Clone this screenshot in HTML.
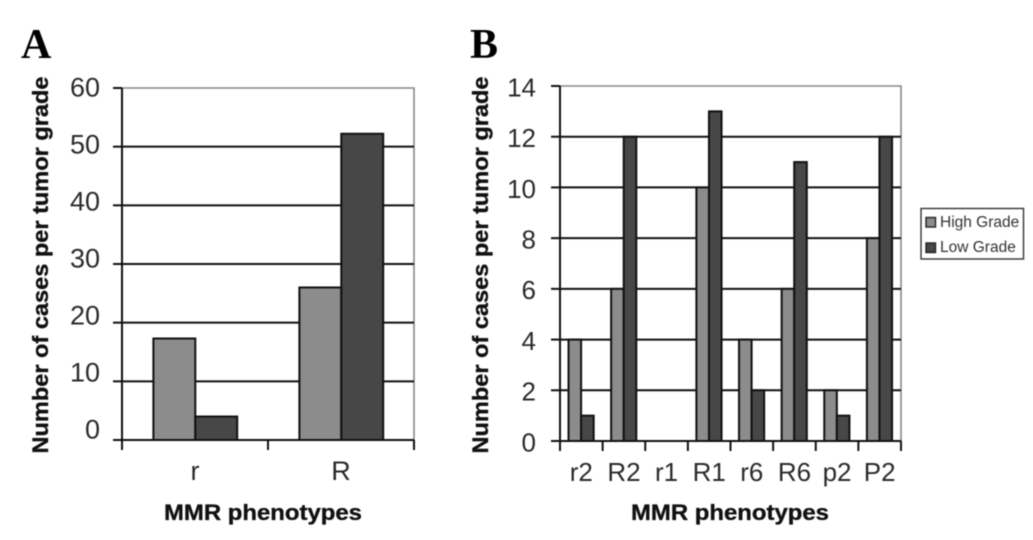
<!DOCTYPE html>
<html lang="en">
<head>
<meta charset="utf-8">
<title>MMR phenotypes by tumor grade</title>
<style>
html,body{margin:0;padding:0;background:#fff;}
svg{display:block;filter:blur(0.45px);}
text{font-family:"Liberation Sans",sans-serif;}
.tick{fill:#2b2b2b;}
.title{font-size:22.5px;font-weight:bold;fill:#111;stroke:#111;stroke-width:0.35px;}
.panel{font-family:"Liberation Serif",serif;font-size:42px;font-weight:bold;fill:#000;}
.leg{font-size:15.5px;fill:#333;}
</style>
</head>
<body>
<svg id="fig" width="1033" height="540" viewBox="0 0 1033 540" xmlns="http://www.w3.org/2000/svg">
  <text class="panel" x="21" y="58">A</text>
  <text class="panel" x="470" y="58">B</text>
  <g id="chartA"></g>
  <g id="chartB"></g>
  <g>
    <rect x="921" y="208.5" width="102.5" height="50.5" fill="#fff" stroke="#333" stroke-width="1.4"/>
    <rect x="926" y="217.5" width="9.5" height="9.5" fill="#8c8c8c" stroke="#222" stroke-width="1.4"/>
    <text class="leg" x="940" y="227">High Grade</text>
    <rect x="926" y="243" width="9.5" height="9.5" fill="#474747" stroke="#222" stroke-width="1.4"/>
    <text class="leg" x="940" y="252">Low Grade</text>
  </g>
</svg>
<script>
var categoriesA = ['r', 'R'];
var highGradeA = [17.3, 26];
var lowGradeA = [4, 52.2];
var tickLabelsA = [0, 10, 20, 30, 40, 50, 60];

var categoriesB = ['r2', 'R2', 'r1', 'R1', 'r6', 'R6', 'p2', 'P2'];
var highGradeB = [4, 6, 0, 10, 4, 6, 2, 8];
var lowGradeB = [1, 12, 0, 13, 2, 11, 1, 12];
var tickLabelsB = [0, 2, 4, 6, 8, 10, 12, 14];

var NS = 'http://www.w3.org/2000/svg';
function make(parent, tag, attrs, txt) {
  var el = document.createElementNS(NS, tag);
  for (var k in attrs) el.setAttribute(k, attrs[k]);
  if (txt !== undefined) el.textContent = txt;
  parent.appendChild(el);
  return el;
}
function drawChart(root, cfg) {
  var maxV = cfg.ticks[cfg.ticks.length - 1];
  function yScale(v) { return cfg.bottom - v * (cfg.bottom - cfg.top) / maxV; }
  function yLabel(v) { return cfg.labelBottom - v * (cfg.labelBottom - cfg.labelTop) / maxV; }
  var band = (cfg.right - cfg.left) / cfg.categories.length;
  function xBand(i) { return cfg.left + i * band; }

  var frame = make(root, 'path', {d: 'M' + cfg.left + ' ' + cfg.top + 'H' + cfg.right + 'V' + cfg.bottom, fill: 'none', stroke: '#888', 'stroke-width': 1.6});
  
  

  cfg.ticks.forEach(function (t) {
    var y = yScale(t);
    if (t > 0 && t < maxV) {
      var g = make(root, 'line', {x1: cfg.left, x2: cfg.right, y1: y, y2: y, stroke: '#111', 'stroke-width': 2});
      
      
    }
    var m = make(root, 'line', {x1: cfg.left - 9, x2: cfg.left, y1: y, y2: y, stroke: '#111', 'stroke-width': 2});
    
    
    var l = make(root, 'text', {'class': 'tick', 'font-size': cfg.fontSize, x: cfg.left - cfg.tickGap, y: yLabel(t) + cfg.fontSize * 0.36, 'text-anchor': 'end'}, t);
    
    
  });

  cfg.categories.forEach(function (c, i) {
    var x0 = xBand(i);
    var h = cfg.high[i], lo = cfg.low[i];
    var bx = x0 + cfg.barOffset * band;
    var bw = cfg.barWidth * band;
    if (h > 0) {
      var b1 = make(root, 'rect', {x: bx, y: yScale(h), width: bw, height: cfg.bottom - yScale(h), fill: '#8c8c8c', stroke: '#111', 'stroke-width': 2});
      
      
    }
    if (lo > 0) {
      var b2 = make(root, 'rect', {x: bx + bw, y: yScale(lo), width: bw, height: cfg.bottom - yScale(lo), fill: '#474747', stroke: '#111', 'stroke-width': 2});
      
      
    }
    var lab = make(root, 'text', {'class': 'tick', 'font-size': cfg.fontSize, x: x0 + band / 2, y: cfg.bottom + 40, 'text-anchor': 'middle'}, c);
    
    
  });

  for (var i = 0; i <= cfg.categories.length; i++) {
    var tk = make(root, 'line', {x1: xBand(i), x2: xBand(i), y1: cfg.bottom, y2: cfg.bottom + 10, stroke: '#111', 'stroke-width': 2});
    
    
  }

  var ya = make(root, 'line', {x1: cfg.left, x2: cfg.left, y1: cfg.top, y2: cfg.bottom, stroke: '#111', 'stroke-width': 2});
  
  
  var xa = make(root, 'line', {x1: cfg.left, x2: cfg.right, y1: cfg.bottom, y2: cfg.bottom, stroke: '#111', 'stroke-width': 2});
  
  

  var xt = make(root, 'text', {'class': 'title', x: cfg.xTitleX, y: 520, 'text-anchor': 'middle', textLength: 198, lengthAdjust: 'spacingAndGlyphs'}, 'MMR phenotypes');
  
  
  var yt = make(root, 'text', {'class': 'title', transform: 'translate(' + cfg.yTitleX + ' 265) rotate(-90)', 'text-anchor': 'middle', textLength: 377, lengthAdjust: 'spacingAndGlyphs'}, 'Number of cases per tumor grade');
  
  
}

drawChart(document.getElementById('chartA'), {
  categories: categoriesA, high: highGradeA, low: lowGradeA, ticks: tickLabelsA,
  left: 122, right: 414, top: 88, bottom: 440, labelTop: 87, labelBottom: 429,
  fontSize: 27, tickGap: 22,
  barOffset: 0.215, barWidth: 0.287, xTitleX: 263, yTitleX: 48
});
drawChart(document.getElementById('chartB'), {
  categories: categoriesB, high: highGradeB, low: lowGradeB, ticks: tickLabelsB,
  left: 560, right: 901, top: 86, bottom: 441, labelTop: 87, labelBottom: 442,
  fontSize: 26, tickGap: 24,
  barOffset: 0.2, barWidth: 0.295, xTitleX: 730, yTitleX: 488
});
</script>
</body>
</html>
